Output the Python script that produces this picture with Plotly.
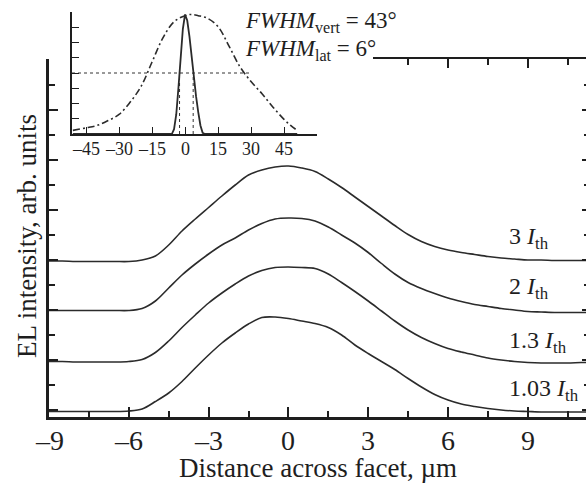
import plotly.graph_objects as go

# ---------------- data ----------------
# Main panel: distance across facet (um)
DIST = [-9, -8.5, -8, -7.5, -7, -6.5, -6, -5.5, -5, -4.5, -4, -3.5, -3, -2.5, -2, -1.5, -1, -0.5,
        0, 0.5, 1, 1.5, 2, 2.5, 3, 3.5, 4, 4.5, 5, 5.5, 6, 6.5, 7, 7.5, 8, 8.5, 9, 9.5, 10, 10.5, 11, 11.2]

EL_3ITH = [2.98, 2.98, 2.97, 2.97, 2.97, 2.97, 2.97, 3.00, 3.08, 3.30, 3.58, 3.82, 4.05, 4.28, 4.50, 4.70, 4.80, 4.86,
           4.88, 4.84, 4.77, 4.62, 4.45, 4.26, 4.07, 3.88, 3.69, 3.51, 3.37, 3.27, 3.20, 3.15, 3.11, 3.07, 3.04, 3.02,
           3.00, 3.00, 2.99, 2.99, 2.99, 2.99]
EL_2ITH = [1.99, 1.99, 1.99, 1.99, 1.99, 1.99, 1.99, 2.03, 2.18, 2.44, 2.70, 2.92, 3.12, 3.30, 3.44, 3.60, 3.73, 3.82,
           3.84, 3.83, 3.78, 3.66, 3.50, 3.34, 3.15, 2.93, 2.72, 2.55, 2.43, 2.33, 2.24, 2.17, 2.11, 2.07, 2.03, 2.00,
           1.97, 1.96, 1.95, 1.95, 1.95, 1.95]
EL_13ITH = [0.97, 0.97, 0.96, 0.96, 0.96, 0.96, 0.97, 1.01, 1.15, 1.38, 1.65, 1.90, 2.14, 2.34, 2.52, 2.68, 2.79, 2.85,
            2.86, 2.85, 2.83, 2.72, 2.55, 2.37, 2.18, 1.98, 1.78, 1.60, 1.45, 1.33, 1.23, 1.16, 1.10, 1.04, 1.00, 0.97,
            0.95, 0.94, 0.94, 0.94, 0.95, 0.95]
EL_103ITH = [-0.03, -0.03, -0.03, -0.03, -0.03, -0.03, -0.02, 0.02, 0.17, 0.34, 0.57, 0.84, 1.10, 1.34, 1.54, 1.72, 1.85, 1.86,
             1.83, 1.78, 1.73, 1.65, 1.50, 1.30, 1.13, 0.97, 0.81, 0.63, 0.46, 0.31, 0.20, 0.12, 0.07, 0.03, 0.00, -0.02,
             -0.03, -0.04, -0.04, -0.04, -0.04, -0.04]

SERIES_NAMES = ["3 I_th", "2 I_th", "1.3 I_th", "1.03 I_th"]
LABEL_TEXTS = ["3 <i>I</i><sub>th</sub>", "2 <i>I</i><sub>th</sub>",
               "1.3 <i>I</i><sub>th</sub>", "1.03 <i>I</i><sub>th</sub>"]

X_TICKS = [-9, -6, -3, 0, 3, 6, 9]
X_TICK_LABELS = ["\u20139", "\u20136", "\u20133", "0", "3", "6", "9"]

# Inset: far-field patterns (angle in degrees)
ANGLE_VERT = [-51, -45, -40, -35, -30, -25, -20, -15, -10, -5, 0, 3, 6, 10, 15, 20, 25, 30, 35, 40, 45, 48, 51]
FF_VERT = [0.03, 0.05, 0.07, 0.11, 0.16, 0.26, 0.39, 0.59, 0.79, 0.92, 0.97, 0.98, 0.97, 0.95, 0.88, 0.72, 0.55,
           0.43, 0.33, 0.22, 0.12, 0.07, 0.03]
ANGLE_LAT = [-51, -10, -6, -5, -4, -3, -2, -1, 0, 1, 2, 3, 4, 5, 6, 7, 8, 9, 51]
FF_LAT = [0, 0, 0.0, 0.04, 0.16, 0.38, 0.62, 0.86, 0.98, 0.93, 0.80, 0.62, 0.44, 0.31, 0.18, 0.07, 0.01, 0, 0]
INSET_TICKS = [-45, -30, -15, 0, 15, 30, 45]
INSET_TICK_LABELS = ["\u201345", "\u201330", "\u201315", "0", "15", "30", "45"]
HALF_LEVEL = 0.5
HALF_LINE_X = [-51.4, 29.5]
FWHM_LAT_BOUNDS = [-2.5, 3.7]
FWHM_VERT_DEG = 43
FWHM_LAT_DEG = 6

# ---------------- layout helpers (pixels -> paper) ----------------
W, H = 586, 485


def px(x):
    return x / W


def py(y):
    return (H - y) / H


FONT = "Liberation Serif, Times New Roman, serif"
INK = "#1e1e1e"
LINE = "#2b2b2b"

MAIN_L, MAIN_R, MAIN_T, MAIN_B = 49, 586, 59, 417
X_MIN = -9
X_MAX = -9 + (MAIN_R - MAIN_L) / 26.6
Y_MIN, Y_MAX = -0.14, 7.02

TOP_START = 373
frac = (TOP_START - MAIN_L) / (MAIN_R - MAIN_L)
X3_MIN = X_MIN + frac * (X_MAX - X_MIN)

INS_L, INS_R, INS_T, INS_B = 72, 317, 12, 134

fig = go.Figure()

for ys, nm in zip([EL_3ITH, EL_2ITH, EL_13ITH, EL_103ITH], SERIES_NAMES):
    fig.add_trace(go.Scatter(x=DIST, y=ys, mode="lines", name=nm, showlegend=False,
                             line=dict(color=LINE, width=1.6, shape="spline", smoothing=0.9),
                             xaxis="x", yaxis="y", hoverinfo="skip"))

# dummy traces so the extra axes are drawn
fig.add_trace(go.Scatter(x=[], y=[], xaxis="x3", yaxis="y", showlegend=False))
fig.add_trace(go.Scatter(x=[], y=[], xaxis="x", yaxis="y3", showlegend=False))

# inset
fig.add_trace(go.Scatter(x=HALF_LINE_X, y=[HALF_LEVEL, HALF_LEVEL], mode="lines", showlegend=False,
                         line=dict(color="#333", width=1, dash="dot"), xaxis="x2", yaxis="y2"))
for b in FWHM_LAT_BOUNDS:
    fig.add_trace(go.Scatter(x=[b, b], y=[0, HALF_LEVEL], mode="lines", showlegend=False,
                             line=dict(color="#333", width=1, dash="dot"), xaxis="x2", yaxis="y2"))
fig.add_trace(go.Scatter(x=ANGLE_VERT, y=FF_VERT, mode="lines", showlegend=False,
                         line=dict(color=LINE, width=1.6, dash="7px,3px,2px,3px", shape="spline"),
                         xaxis="x2", yaxis="y2"))
fig.add_trace(go.Scatter(x=ANGLE_LAT, y=FF_LAT, mode="lines", showlegend=False,
                         line=dict(color=LINE, width=1.8),
                         xaxis="x2", yaxis="y2"))

axis_common = dict(showgrid=False, zeroline=False, color=INK)

fig.update_layout(
    width=W, height=H, autosize=False,
    margin=dict(l=0, r=0, t=0, b=0),
    paper_bgcolor="white", plot_bgcolor="rgba(0,0,0,0)",
    font=dict(family=FONT, color=INK),
    showlegend=False,
    xaxis=dict(domain=[px(MAIN_L), 1.0], range=[X_MIN, X_MAX], anchor="y",
               tickmode="array", tickvals=X_TICKS, showticklabels=False,
               ticks="inside", ticklen=10, tickwidth=1.5, tickcolor=INK,
               minor=dict(dtick=1.5, tick0=0, ticks="inside", ticklen=6, tickwidth=1.5, tickcolor=INK),
               showline=True, linewidth=3, linecolor=INK, mirror=False,
               **axis_common),
    yaxis=dict(domain=[py(MAIN_B), py(MAIN_T)], range=[Y_MIN, Y_MAX], anchor="x",
               dtick=1, tick0=0, ticks="inside", ticklen=9, tickwidth=1.5, tickcolor=INK,
               minor=dict(dtick=0.5, tick0=0, ticks="inside", ticklen=6, tickwidth=1.5, tickcolor=INK),
               showticklabels=False,
               showline=True, linewidth=3, linecolor=INK, mirror=False,
               **axis_common),
    xaxis3=dict(domain=[px(TOP_START), 1.0], range=[X3_MIN, X_MAX], anchor="y", side="top",
                dtick=3, tick0=0, ticks="inside", ticklen=9, tickwidth=1.5, tickcolor=INK,
                minor=dict(dtick=1.5, tick0=0, ticks="inside", ticklen=6, tickwidth=1.5, tickcolor=INK),
                showticklabels=False, showline=True, linewidth=2, linecolor=INK,
                **axis_common),
    yaxis3=dict(overlaying="y", side="right", anchor="x", range=[Y_MIN, Y_MAX],
                dtick=1, tick0=0, ticks="inside", ticklen=4, tickwidth=1.5, tickcolor=INK,
                minor=dict(dtick=0.5, tick0=0, ticks="inside", ticklen=2, tickwidth=1.5, tickcolor=INK),
                showticklabels=False, showline=False,
                **axis_common),
    xaxis2=dict(domain=[px(INS_L), px(INS_R)], range=[-51.4, 60], anchor="y2",
                tickmode="array", tickvals=INSET_TICKS, showticklabels=False,
                ticks="inside", ticklen=7, tickwidth=1.3, tickcolor=INK,
                showline=True, linewidth=2, linecolor=INK,
                **axis_common),
    yaxis2=dict(domain=[py(INS_B), py(INS_T)], range=[0, 1.0], anchor="x2",
                dtick=0.125, tick0=0, ticks="inside", ticklen=7, tickwidth=1.3, tickcolor=INK,
                showticklabels=False, showline=True, linewidth=2, linecolor=INK,
                **axis_common),
)

annotations = []
# main x tick labels (positioned on the data axis)
for v, t in zip(X_TICKS, X_TICK_LABELS):
    annotations.append(dict(text=t, x=v, xref="x", y=py(440), yref="paper", showarrow=False,
                            xanchor="center", yanchor="middle",
                            font=dict(size=28, family=FONT, color=INK)))
# inset tick labels
for v, t in zip(INSET_TICKS, INSET_TICK_LABELS):
    annotations.append(dict(text=t, x=v, xref="x2", y=py(149), yref="paper", showarrow=False,
                            xanchor="center", yanchor="middle",
                            font=dict(size=18, family=FONT, color=INK)))
# axis titles
annotations.append(dict(text="Distance across facet, \u00b5m", x=px(318), y=py(468), xref="paper", yref="paper",
                        showarrow=False, xanchor="center", yanchor="middle",
                        font=dict(size=27, family=FONT, color=INK)))
annotations.append(dict(text="EL intensity, arb. units", x=px(27), y=py(236), xref="paper", yref="paper",
                        showarrow=False, xanchor="center", yanchor="middle", textangle=-90,
                        font=dict(size=27, family=FONT, color=INK)))
# curve labels
for txt, yc in zip(LABEL_TEXTS, [238, 288, 342, 390]):
    annotations.append(dict(text=txt, x=px(507), y=py(yc), xref="paper", yref="paper",
                            showarrow=False, xanchor="left", yanchor="middle",
                            font=dict(size=24, family=FONT, color=INK)))
# FWHM labels
annotations.append(dict(text=f"<i>FWHM</i><sub>vert</sub> = {FWHM_VERT_DEG}\u00b0", x=px(243), y=py(22),
                        xref="paper", yref="paper", showarrow=False, xanchor="left", yanchor="middle",
                        font=dict(size=23, family=FONT, color=INK)))
annotations.append(dict(text=f"<i>FWHM</i><sub>lat</sub> = {FWHM_LAT_DEG}\u00b0", x=px(243), y=py(50),
                        xref="paper", yref="paper", showarrow=False, xanchor="left", yanchor="middle",
                        font=dict(size=23, family=FONT, color=INK)))
fig.update_layout(annotations=annotations)

fig.write_html("out.html", config={"displayModeBar": False},
               post_script="document.body.style.margin='0px';")
